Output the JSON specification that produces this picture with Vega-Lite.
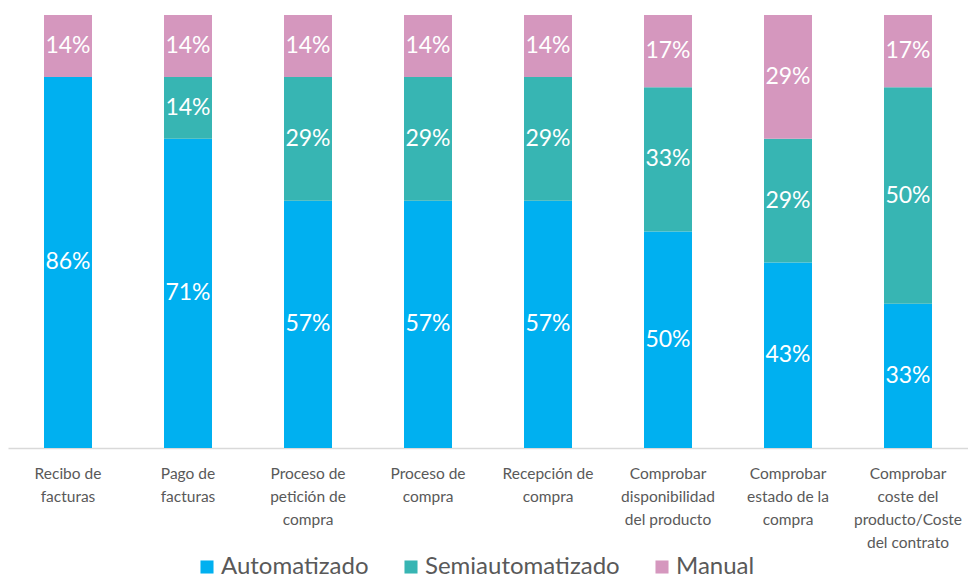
{
  "$schema": "https://vega.github.io/schema/vega-lite/v6.json",
  "width": 960,
  "height": 433,
  "autosize": {"type": "none"},
  "padding": {"left": 8, "top": 15, "right": 0, "bottom": 130},
  "background": "white",
  "config": {"view": {"stroke": null}, "font": "Lato"},
  "data": {"values": [
    {"cat": "Recibo de|facturas", "tipo": "Automatizado", "orden": 1, "valor": 0.857},
    {"cat": "Recibo de|facturas", "tipo": "Manual", "orden": 3, "valor": 0.143},
    {"cat": "Pago de|facturas", "tipo": "Automatizado", "orden": 1, "valor": 0.714},
    {"cat": "Pago de|facturas", "tipo": "Semiautomatizado", "orden": 2, "valor": 0.143},
    {"cat": "Pago de|facturas", "tipo": "Manual", "orden": 3, "valor": 0.143},
    {"cat": "Proceso de|petición de|compra", "tipo": "Automatizado", "orden": 1, "valor": 0.571},
    {"cat": "Proceso de|petición de|compra", "tipo": "Semiautomatizado", "orden": 2, "valor": 0.286},
    {"cat": "Proceso de|petición de|compra", "tipo": "Manual", "orden": 3, "valor": 0.143},
    {"cat": "Proceso de|compra", "tipo": "Automatizado", "orden": 1, "valor": 0.571},
    {"cat": "Proceso de|compra", "tipo": "Semiautomatizado", "orden": 2, "valor": 0.286},
    {"cat": "Proceso de|compra", "tipo": "Manual", "orden": 3, "valor": 0.143},
    {"cat": "Recepción de|compra", "tipo": "Automatizado", "orden": 1, "valor": 0.571},
    {"cat": "Recepción de|compra", "tipo": "Semiautomatizado", "orden": 2, "valor": 0.286},
    {"cat": "Recepción de|compra", "tipo": "Manual", "orden": 3, "valor": 0.143},
    {"cat": "Comprobar|disponibilidad|del producto", "tipo": "Automatizado", "orden": 1, "valor": 0.5},
    {"cat": "Comprobar|disponibilidad|del producto", "tipo": "Semiautomatizado", "orden": 2, "valor": 0.333},
    {"cat": "Comprobar|disponibilidad|del producto", "tipo": "Manual", "orden": 3, "valor": 0.167},
    {"cat": "Comprobar|estado de la|compra", "tipo": "Automatizado", "orden": 1, "valor": 0.4285},
    {"cat": "Comprobar|estado de la|compra", "tipo": "Semiautomatizado", "orden": 2, "valor": 0.2857},
    {"cat": "Comprobar|estado de la|compra", "tipo": "Manual", "orden": 3, "valor": 0.2857},
    {"cat": "Comprobar|coste del|producto/Coste|del contrato", "tipo": "Automatizado", "orden": 1, "valor": 0.333},
    {"cat": "Comprobar|coste del|producto/Coste|del contrato", "tipo": "Semiautomatizado", "orden": 2, "valor": 0.5},
    {"cat": "Comprobar|coste del|producto/Coste|del contrato", "tipo": "Manual", "orden": 3, "valor": 0.167}
  ]},
  "transform": [
    {"stack": "valor", "groupby": ["cat"], "sort": [{"field": "orden", "order": "ascending"}], "as": ["y0", "y1"]},
    {"calculate": "(datum.y0 + datum.y1) / 2", "as": "ymid"}
  ],
  "encoding": {
    "x": {
      "field": "cat", "type": "nominal",
      "sort": ["Recibo de|facturas", "Pago de|facturas", "Proceso de|petición de|compra", "Proceso de|compra", "Recepción de|compra", "Comprobar|disponibilidad|del producto", "Comprobar|estado de la|compra", "Comprobar|coste del|producto/Coste|del contrato"],
      "scale": {"paddingInner": 0.6, "paddingOuter": 0.3},
      "axis": {
        "title": null, "labelAngle": 0, "labelExpr": "split(datum.label, '|')",
        "labelFontSize": 15.5, "labelColor": "#595959", "labelLineHeight": 23,
        "labelBaseline": "top", "labelPadding": 18, "ticks": false,
        "domainColor": "#D9D9D9", "domainWidth": 1.3, "labelLimit": 200
      }
    }
  },
  "layer": [
    {
      "mark": {"type": "bar"},
      "encoding": {
        "y": {"field": "y0", "type": "quantitative", "scale": {"domain": [0, 1]}, "axis": null},
        "y2": {"field": "y1"},
        "color": {
          "field": "tipo", "type": "nominal",
          "scale": {"domain": ["Automatizado", "Semiautomatizado", "Manual"], "range": ["#00B0F0", "#37B5B3", "#D597BE"]},
          "legend": {
            "title": null, "orient": "none", "direction": "horizontal",
            "legendX": 187, "legendY": 540,
            "symbolType": "square", "symbolSize": 170, "symbolStrokeWidth": 0,
            "labelFontSize": 24, "labelColor": "#595959", "labelOffset": 2,
            "columnPadding": 30, "labelLimit": 300
          }
        }
      }
    },
    {
      "mark": {"type": "text", "color": "white", "fontSize": 23, "baseline": "middle", "align": "center"},
      "encoding": {
        "y": {"field": "ymid", "type": "quantitative", "scale": {"domain": [0, 1]}, "axis": null},
        "text": {"field": "valor", "type": "quantitative", "format": ".0%"}
      }
    }
  ]
}
